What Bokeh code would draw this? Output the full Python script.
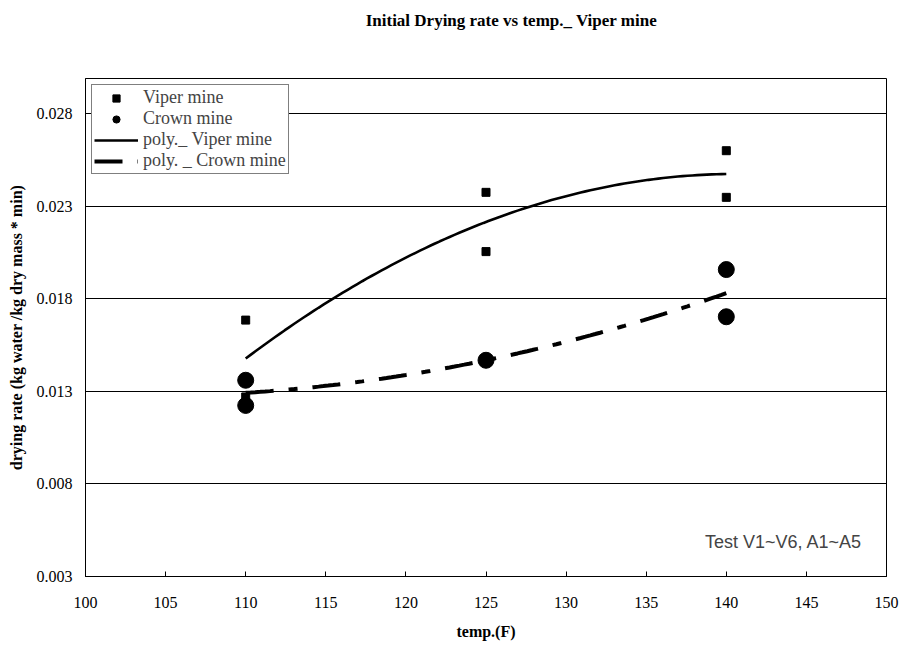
import numpy as np
from bokeh.plotting import figure
from bokeh.models import (FixedTicker, Range1d, Label, Legend, LegendItem, PrintfTickFormatter,
                          LinearAxis)
from bokeh.embed import file_html
from bokeh.resources import INLINE

# Data
viper_temp = [110, 110, 125, 125, 140, 140]
viper_rate = [0.01685, 0.0127, 0.02375, 0.02055, 0.02600, 0.02348]
crown_temp = [110, 110, 125, 140, 140]
crown_rate = [0.01360, 0.01224, 0.01468, 0.01958, 0.01703]
x_ticks = [100, 105, 110, 115, 120, 125, 130, 135, 140, 145, 150]
y_ticks = [0.003, 0.008, 0.013, 0.018, 0.023, 0.028]
title_text = "Initial Drying rate vs temp._ Viper mine"

# polynomial (order 2) trend lines, as in the original chart
xs = np.linspace(110, 140, 100)
viper_fit = np.polyval(np.polyfit(viper_temp, viper_rate, 2), xs)
crown_fit = np.polyval(np.polyfit(crown_temp, crown_rate, 2), xs)

SERIF = "Liberation Serif"

p = figure(width=902, height=648, output_backend="svg", toolbar_location=None,
           x_range=Range1d(100, 150), y_range=Range1d(0.003, 0.0299),
           min_border_left=85, min_border_right=16, min_border_top=78, min_border_bottom=72)

# title drawn as the single tick label of an invisible axis above the frame
p.extra_x_ranges = {"title": Range1d(0, 801)}
title_axis = LinearAxis(x_range_name="title", ticker=FixedTicker(ticks=[426]),
                        major_label_overrides={426: title_text},
                        axis_line_color=None, major_tick_line_color=None,
                        minor_tick_line_color=None, major_tick_in=0, major_tick_out=0,
                        major_label_standoff=49, major_label_text_font=SERIF,
                        major_label_text_font_size="17px", major_label_text_font_style="bold",
                        major_label_text_color="black")
p.add_layout(title_axis, "above")

p.outline_line_color = "black"
p.outline_line_width = 1
p.xgrid.grid_line_color = None
p.ygrid.grid_line_color = "black"
p.ygrid.grid_line_width = 1
p.ygrid.ticker = FixedTicker(ticks=y_ticks)

xa = p.below[0]
ya = p.left[0]
for ax in (xa, ya):
    ax.axis_line_color = "black"
    ax.major_tick_in = 5
    ax.major_tick_out = 0
    ax.minor_tick_line_color = None
    ax.major_label_text_font = SERIF
    ax.major_label_text_font_size = "16px"
    ax.major_label_text_color = "black"
    ax.axis_label_text_font = SERIF
    ax.axis_label_text_font_size = "16px"
    ax.axis_label_text_font_style = "bold"
    ax.axis_label_text_color = "black"
xa.ticker = FixedTicker(ticks=x_ticks)
ya.ticker = FixedTicker(ticks=y_ticks)
ya.formatter = PrintfTickFormatter(format="%.3f")
xa.axis_label = "temp.(F)"
ya.axis_label = "drying rate (kg water /kg dry mass * min)"
xa.major_label_standoff = 20
xa.axis_label_standoff = 12
ya.major_label_standoff = 13
ya.axis_label_standoff = 9

r_v = p.scatter(viper_temp, viper_rate, marker="square", size=8, color="black")
r_c = p.scatter(crown_temp, crown_rate, marker="circle", size=16, color="black")
r_vl = p.line(xs, viper_fit, line_color="black", line_width=2.6)
r_cl = p.line(xs, crown_fit, line_color="black", line_width=4, line_dash="28 15 9 15")

legend = Legend(items=[
    LegendItem(label="Viper mine", renderers=[r_v]),
    LegendItem(label="Crown mine", renderers=[r_c]),
    LegendItem(label="poly._ Viper mine", renderers=[r_vl]),
    LegendItem(label="poly. _ Crown mine", renderers=[r_cl]),
], location="top_left")
legend.margin = 6
legend.padding = 2
legend.spacing = 0
legend.glyph_width = 44
legend.glyph_height = 18
legend.label_height = 18
legend.label_standoff = 5
legend.label_text_font = SERIF
legend.label_text_font_size = "18px"
legend.border_line_color = "black"
legend.border_line_width = 1
legend.background_fill_alpha = 1
p.add_layout(legend, "center")

p.add_layout(Label(x=143.57, y=0.00489, text="Test V1~V6, A1~A5", text_font="Liberation Sans",
                   text_font_size="18px", text_align="center", text_baseline="middle"))

open("out.html", "w").write(file_html(p, INLINE))
